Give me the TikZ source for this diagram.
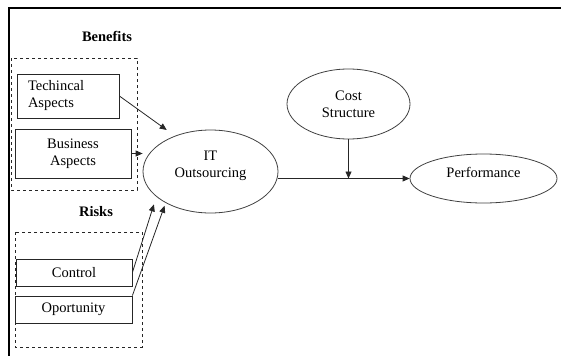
\documentclass[tikz,border=0pt]{standalone}
\usepackage{fontspec}
\setmainfont{Liberation Serif}
\usetikzlibrary{arrows.meta, shapes.geometric}

\begin{document}
\begin{tikzpicture}[x=1pt, y=-1pt,
                    font=\fontsize{14.5}{17}\selectfont,
                    factor/.style={rectangle, draw=black!85, line width=0.8pt, inner sep=0pt, align=center},
                    construct/.style={ellipse, draw=black!75, line width=0.8pt, inner sep=0pt, align=center},
                    heading/.style={font=\fontsize{14.5}{17}\selectfont\bfseries},
                    group/.style={draw=black!85, dashed, line width=0.8pt},
                    link/.style={-{Triangle[length=7pt, width=6pt]}, line width=0.8pt, black!85}]

    \useasboundingbox (0,0) rectangle (561,356);
    \draw[line width=1.2pt] (561,8) -- (9,8) -- (9,356);

    % benefits
    \node[heading] (benefits) at (107,36) {Benefits};
    \draw[group] (11,58) rectangle (137,190);
    \node[factor, minimum width=102pt, minimum height=44pt, text width=80pt, align=left] (tech) at (68,96) {Techincal\\Aspects};
    \node[factor, minimum width=116pt, minimum height=49pt] (business) at (73,153.5) {Business\\Aspects};

    % risks
    \node[heading] (risks) at (96,212) {Risks};
    \draw[group] (15,232) rectangle (142,347);
    \node[factor, minimum width=116pt, minimum height=27pt] (control) at (74,272.5) {Control};
    \node[factor, minimum width=117pt, minimum height=27pt] (oport) at (73.5,309.5) {Oportunity};

    \node[construct, minimum width=135pt, minimum height=83pt, text depth=15pt] (it) at (210.5,171.5) {IT\\Outsourcing};
    \node[construct, minimum width=123pt, minimum height=70pt] (cost) at (348.5,104) {Cost\\Structure};
    \node[construct, minimum width=147pt, minimum height=49pt, text depth=12pt] (perf) at (483.5,178.5) {Performance};

    \draw[link, shorten >=10pt] (tech.east) -- (it.135);
    \draw[link] (business.east) -- (business.east -| it.west);
    \draw[link, shorten >=8pt] (control.east) -- (it.205);
    \draw[link, shorten >=3pt] (oport.north east) -- (it.215);

    \draw[link] (it.east |- perf.west) -- (perf.west);
    \draw[link] (cost.south) -- (cost.south |- perf.west);
\end{tikzpicture}
\end{document}
